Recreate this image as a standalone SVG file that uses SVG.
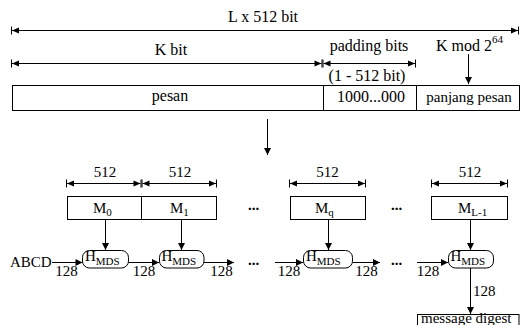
<svg xmlns="http://www.w3.org/2000/svg" width="520" height="325" viewBox="0 0 520 325" font-family="'Liberation Serif', 'Times New Roman', 'DejaVu Serif', serif">
<style>
text{font-family:"Liberation Serif","Times New Roman","DejaVu Serif",serif;fill:#000}
.t16{font-size:16px}
.t15{font-size:15px}
.sub{font-size:11px}
.c{text-anchor:middle}
.box{fill:#fff;stroke:#000;stroke-width:1}
.ln{fill:none;stroke:#000;stroke-width:1}
.dim{fill:none;stroke:#000;stroke-width:1;marker-start:url(#dimS);marker-end:url(#dimE)}
.arr{fill:none;stroke:#000;stroke-width:1;marker-end:url(#ah)}
.dots{font-size:15px;font-weight:bold}
</style>
<defs>
<marker id="dimE" markerUnits="userSpaceOnUse" markerWidth="12" markerHeight="12" viewBox="-9 -6 12 12" refX="0" refY="0" orient="auto">
<path d="M-7,-3 L0,0 L-7,3 Z" fill="#000"/>
<path d="M0.5,-4 L0.5,4" stroke="#000" stroke-width="1"/>
</marker>
<marker id="dimS" markerUnits="userSpaceOnUse" markerWidth="12" markerHeight="12" viewBox="-9 -6 12 12" refX="0" refY="0" orient="auto-start-reverse">
<path d="M-7,-3 L0,0 L-7,3 Z" fill="#000"/>
<path d="M0.5,-4 L0.5,4" stroke="#000" stroke-width="1"/>
</marker>
<marker id="ah" markerUnits="userSpaceOnUse" markerWidth="12" markerHeight="12" viewBox="-9 -6 12 12" refX="0" refY="0" orient="auto">
<path d="M-7,-3.5 L0,0 L-7,3.5 Z" fill="#000"/>
</marker>
</defs>

<g id="connectors">
<line class="dim" x1="12" y1="30.5" x2="518" y2="30.5"/>
<line class="dim" x1="12" y1="63.5" x2="321.5" y2="63.5"/>
<line class="dim" x1="323.5" y1="63.5" x2="415" y2="63.5"/>
<line class="arr" x1="468.5" y1="54" x2="468.5" y2="84"/>
<line class="arr" x1="267.5" y1="119" x2="267.5" y2="155"/>
<line class="dim" x1="67" y1="183.5" x2="140.5" y2="183.5"/>
<line class="dim" x1="142.5" y1="183.5" x2="216" y2="183.5"/>
<line class="dim" x1="290" y1="183.5" x2="365" y2="183.5"/>
<line class="dim" x1="432" y1="183.5" x2="507" y2="183.5"/>
<line class="arr" x1="105.5" y1="219.5" x2="105.5" y2="250"/>
<line class="arr" x1="181.5" y1="219.5" x2="181.5" y2="250"/>
<line class="arr" x1="328.5" y1="219.5" x2="328.5" y2="250"/>
<line class="arr" x1="470.5" y1="219.5" x2="470.5" y2="250"/>
<line class="arr" x1="52" y1="262.5" x2="82.5" y2="262.5"/>
<line class="arr" x1="128.5" y1="262.5" x2="159" y2="262.5"/>
<line class="arr" x1="204" y1="262.5" x2="234" y2="262.5"/>
<line class="arr" x1="275" y1="262.5" x2="303" y2="262.5"/>
<line class="arr" x1="353" y1="262.5" x2="380" y2="262.5"/>
<line class="arr" x1="417" y1="262.5" x2="448" y2="262.5"/>
<line class="arr" x1="470.5" y1="268" x2="470.5" y2="314"/>
</g>

<g id="labels-top">
<text class="t16 c" x="263" y="22">L x 512 bit</text>
<text class="t16 c" x="171" y="55">K bit</text>
<text class="t16 c" x="369" y="51">padding bits</text>
<text class="t16 c" x="367" y="81">(1 - 512 bit)</text>
<text class="t16" x="436" y="51">K mod 2<tspan class="sub" dy="-8">64</tspan></text>
</g>

<g id="message">
<rect class="box" x="12.5" y="85.5" width="507" height="25"/>
<line class="ln" x1="323.5" y1="85.5" x2="323.5" y2="110.5"/>
<line class="ln" x1="416.5" y1="85.5" x2="416.5" y2="110.5"/>
<text class="t16 c" x="170" y="101">pesan</text>
<text class="t16 c" x="371" y="102">1000...000</text>
<text class="t15 c" x="469" y="102">panjang pesan</text>
</g>

<g id="sizes">
<text class="t15 c" x="105" y="177">512</text>
<text class="t15 c" x="180" y="177">512</text>
<text class="t15 c" x="327.5" y="177">512</text>
<text class="t15 c" x="470" y="177">512</text>
</g>

<g id="M0">
<rect class="box" x="67.5" y="196.5" width="74" height="23"/>
<text class="t15" x="93" y="213">M<tspan class="sub" dy="3">0</tspan></text>
</g>
<g id="M1">
<rect class="box" x="141.5" y="196.5" width="75" height="23"/>
<text class="t15" x="170" y="213">M<tspan class="sub" dy="3">1</tspan></text>
</g>
<text class="dots" x="248" y="210">...</text>
<g id="Mq">
<rect class="box" x="290.5" y="196.5" width="75" height="23"/>
<text class="t15" x="315" y="213">M<tspan class="sub" dy="3">q</tspan></text>
</g>
<text class="dots" x="391" y="210">...</text>
<g id="ML-1">
<rect class="box" x="431.5" y="196.5" width="76" height="23"/>
<text class="t15" x="458" y="213">M<tspan class="sub" dy="3">L-1</tspan></text>
</g>

<text class="t15" x="10" y="267">ABCD</text>

<g id="H1">
<rect class="box" x="82.5" y="250.5" width="46" height="17.5" rx="7"/>
<text class="t15" x="85" y="261">H<tspan class="sub" dy="4">MDS</tspan></text>
</g>
<g id="H2">
<rect class="box" x="159.5" y="250.5" width="44.5" height="17.5" rx="7"/>
<text class="t15" x="161.5" y="261">H<tspan class="sub" dy="4">MDS</tspan></text>
</g>
<text class="dots" x="248" y="265">...</text>
<g id="H3">
<rect class="box" x="303.5" y="250.5" width="49" height="17.5" rx="7"/>
<text class="t15" x="306" y="261">H<tspan class="sub" dy="4">MDS</tspan></text>
</g>
<text class="dots" x="391" y="265">...</text>
<g id="H4">
<rect class="box" x="448.5" y="250.5" width="45" height="17.5" rx="7"/>
<text class="t15" x="450.5" y="261">H<tspan class="sub" dy="4">MDS</tspan></text>
</g>

<g id="widths">
<text class="t15 c" x="66.5" y="276">128</text>
<text class="t15 c" x="144" y="276">128</text>
<text class="t15 c" x="221.5" y="276">128</text>
<text class="t15 c" x="289" y="276">128</text>
<text class="t15 c" x="366.5" y="276">128</text>
<text class="t15 c" x="428" y="276">128</text>
<text class="t15" x="473" y="296">128</text>
</g>

<g id="digest">
<rect class="box" x="417.5" y="314.5" width="101.5" height="20"/>
<text class="t15" x="421" y="323">message digest</text>
</g>
</svg>
